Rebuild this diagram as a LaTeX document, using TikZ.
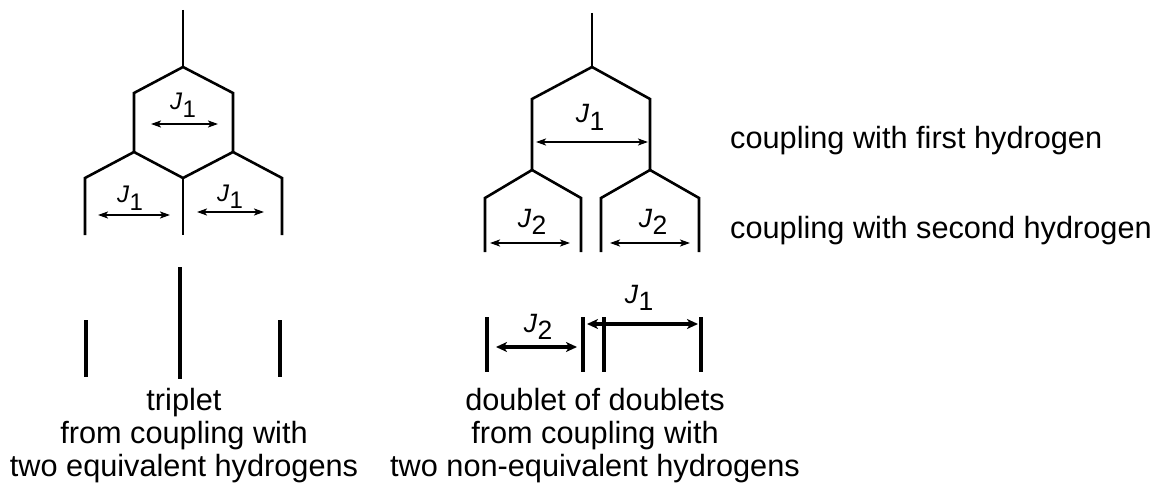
\documentclass[tikz,border=0pt]{standalone}
\usepackage{fontspec}
\setmainfont{Liberation Sans}
\usetikzlibrary{arrows.meta}

% italic J with a lowered, upright index
\newcommand\Jlab[1]{\textit{J}\kern0.3pt\raisebox{-0.3em}{#1}}

\tikzset{
  tree/.style={line width=2.6pt, line join=miter},
  peak/.style={line width=4.6pt},
  jarrow/.style={line width=2.2pt,
    {Stealth[length=10pt,width=7pt,inset=2.5pt]}-{Stealth[length=10pt,width=7pt,inset=2.5pt]}},
  jarrowbold/.style={line width=4.2pt,
    {Stealth[length=11pt,width=10pt,inset=3pt]}-{Stealth[length=11pt,width=10pt,inset=3pt]}},
  jlabsmall/.style={inner sep=0pt, anchor=base, font=\fontsize{24}{24}\selectfont},
  jlab/.style={inner sep=0pt, anchor=base, font=\fontsize{26.5}{26.5}\selectfont},
  caption/.style={inner sep=0pt, align=center, font=\fontsize{30.7}{33}\selectfont},
  sidenote/.style={inner sep=0pt, anchor=base west, font=\fontsize{30.7}{33}\selectfont},
}

\begin{document}
\begin{tikzpicture}[x=1pt, y=-1pt]
\useasboundingbox (0,0) rectangle (1157,484);

% ---------- triplet splitting tree ----------
\coordinate (t0) at (183,10);
\coordinate (t1) at (183,67);
\coordinate (tl) at (134,93);   \coordinate (tlb) at (134,152);
\coordinate (tr) at (233,93);   \coordinate (trb) at (233,152);
\coordinate (ta) at (85,178);   \coordinate (tab) at (85,235);
\coordinate (tb) at (183,178);  \coordinate (tbb) at (183,235);
\coordinate (tc) at (282,178);  \coordinate (tcb) at (282,235);

\draw[tree] (t0) -- (t1);
\draw[tree] (tlb) -- (tl) -- (t1) -- (tr) -- (trb);
\draw[tree] (tab) -- (ta) -- (tlb) -- (tb) -- (trb) -- (tc) -- (tcb);
\draw[tree] (tb) -- (tbb);

\coordinate (ja1) at (151,124); \coordinate (ja2) at (218,124);
\draw[jarrow] (ja1) -- (ja2);
\node[jlabsmall] (tJtop) at (183,110) {\Jlab{1}};

\coordinate (jb1) at (98,215);  \coordinate (jb2) at (170,215);
\draw[jarrow] (jb1) -- (jb2);
\node[jlabsmall] (tJleft) at (130,203) {\Jlab{1}};

\coordinate (jc1) at (197,212); \coordinate (jc2) at (264,212);
\draw[jarrow] (jc1) -- (jc2);
\node[jlabsmall] (tJright) at (230,201) {\Jlab{1}};

% triplet lines
\coordinate (p1t) at (86,320);  \coordinate (p1b) at (86,377);
\coordinate (p2t) at (180,267); \coordinate (p2b) at (180,379);
\coordinate (p3t) at (280,320); \coordinate (p3b) at (280,377);
\draw[peak] (p1t) -- (p1b);
\draw[peak] (p2t) -- (p2b);
\draw[peak] (p3t) -- (p3b);

% ---------- doublet of doublets tree ----------
\coordinate (d0) at (592,13);
\coordinate (d1) at (592,67);
\coordinate (dl) at (532,99);   \coordinate (dlb) at (532,170);
\coordinate (dr) at (650,99);   \coordinate (drb) at (650,170);
\coordinate (da) at (485,198);  \coordinate (dab) at (485,252);
\coordinate (db) at (581,198);  \coordinate (dbb) at (581,252);
\coordinate (dc) at (601,198);  \coordinate (dcb) at (601,252);
\coordinate (dd) at (699,198);  \coordinate (ddb) at (699,252);

\draw[tree] (d0) -- (d1);
\draw[tree] (dlb) -- (dl) -- (d1) -- (dr) -- (drb);
\draw[tree] (dab) -- (da) -- (dlb) -- (db) -- (dbb);
\draw[tree] (dcb) -- (dc) -- (drb) -- (dd) -- (ddb);

\coordinate (ka1) at (536,142); \coordinate (ka2) at (648,142);
\draw[jarrow] (ka1) -- (ka2);
\node[jlab] (dJtop) at (590,123) {\Jlab{1}};

\coordinate (kb1) at (490,243); \coordinate (kb2) at (570,243);
\draw[jarrow] (kb1) -- (kb2);
\node[jlab] (dJleft) at (532,227) {\Jlab{2}};

\coordinate (kc1) at (610,243); \coordinate (kc2) at (690,243);
\draw[jarrow] (kc1) -- (kc2);
\node[jlab] (dJright) at (653,227) {\Jlab{2}};

% doublet of doublets lines
\coordinate (q1t) at (487,317); \coordinate (q1b) at (487,372);
\coordinate (q2t) at (583,317); \coordinate (q2b) at (583,372);
\coordinate (q3t) at (604,317); \coordinate (q3b) at (604,372);
\coordinate (q4t) at (701,317); \coordinate (q4b) at (701,372);
\draw[peak] (q1t) -- (q1b);
\draw[peak] (q2t) -- (q2b);
\draw[peak] (q3t) -- (q3b);
\draw[peak] (q4t) -- (q4b);

\coordinate (m1) at (496,347); \coordinate (m2) at (577,347);
\draw[jarrowbold] (m1) -- (m2);
\node[jlab] (sJ2) at (538,332) {\Jlab{2}};

\coordinate (n1) at (587,324); \coordinate (n2) at (698,324);
\draw[jarrowbold] (n1) -- (n2);
\node[jlab] (sJ1) at (639,303) {\Jlab{1}};

% ---------- texts ----------
\node[sidenote] (first) at (730,149) {coupling with first hydrogen};
\node[sidenote] (second) at (730,238) {coupling with second hydrogen};

\node[caption, anchor=north] (captT) at (184,388)
  {triplet\\from coupling with\\two equivalent hydrogens};
\node[caption, anchor=north] (captD) at (595,388)
  {doublet of doublets\\from coupling with\\two non-equivalent hydrogens};
\end{tikzpicture}
\end{document}
